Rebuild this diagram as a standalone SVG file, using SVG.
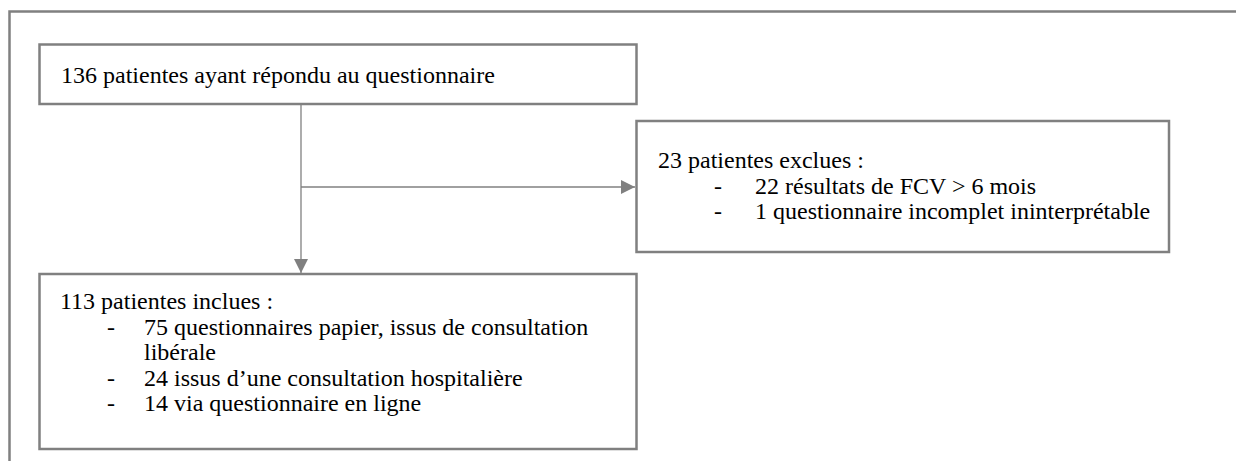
<svg xmlns="http://www.w3.org/2000/svg" width="1236" height="461" viewBox="0 0 1236 461">
  <style>
    .box { fill: #ffffff; stroke: #808080; stroke-width: 2.5; }
    .frame { fill: none; stroke: #808080; stroke-width: 2.5; }
    .conn { fill: none; stroke: #808080; stroke-width: 1.3; }
    .t { font-family: "Liberation Serif", "Times New Roman", serif; font-size: 24px; fill: #000000; }
  </style>
  <defs>
    <marker id="arrow" markerWidth="14" markerHeight="14" refX="14" refY="7" orient="auto" markerUnits="userSpaceOnUse">
      <path d="M0,0 L14,7 L0,14 Z" fill="#808080"/>
    </marker>
  </defs>
  <rect width="1236" height="461" fill="#ffffff"/>
  <path class="frame" d="M9.5,470 L9.5,11.5 L1250,11.5"/>

  <g id="connectors">
    <line class="conn" x1="301" y1="104" x2="301" y2="273" marker-end="url(#arrow)"/>
    <line class="conn" x1="301" y1="187" x2="635" y2="187" marker-end="url(#arrow)"/>
  </g>

  <g id="node-total">
    <rect class="box" x="39.5" y="44.5" width="597" height="59.5"/>
    <text class="t" x="61" y="83">136 patientes ayant répondu au questionnaire</text>
  </g>

  <g id="node-excluded">
    <rect class="box" x="636.5" y="121" width="532.5" height="131"/>
    <text class="t" x="658" y="168">23 patientes exclues :</text>
    <text class="t" x="714" y="194">-</text>
    <text class="t" x="755" y="194">22 résultats de FCV &gt; 6 mois</text>
    <text class="t" x="714" y="219">-</text>
    <text class="t" x="755" y="219">1 questionnaire incomplet ininterprétable</text>
  </g>

  <g id="node-included">
    <rect class="box" x="39.5" y="274" width="597" height="175"/>
    <text class="t" x="60" y="309">113 patientes inclues :</text>
    <text class="t" x="107" y="335">-</text>
    <text class="t" x="144" y="335">75 questionnaires papier, issus de consultation</text>
    <text class="t" x="144" y="360">libérale</text>
    <text class="t" x="107" y="386">-</text>
    <text class="t" x="144" y="386">24 issus d’une consultation hospitalière</text>
    <text class="t" x="107" y="411">-</text>
    <text class="t" x="144" y="411">14 via questionnaire en ligne</text>
  </g>
</svg>
